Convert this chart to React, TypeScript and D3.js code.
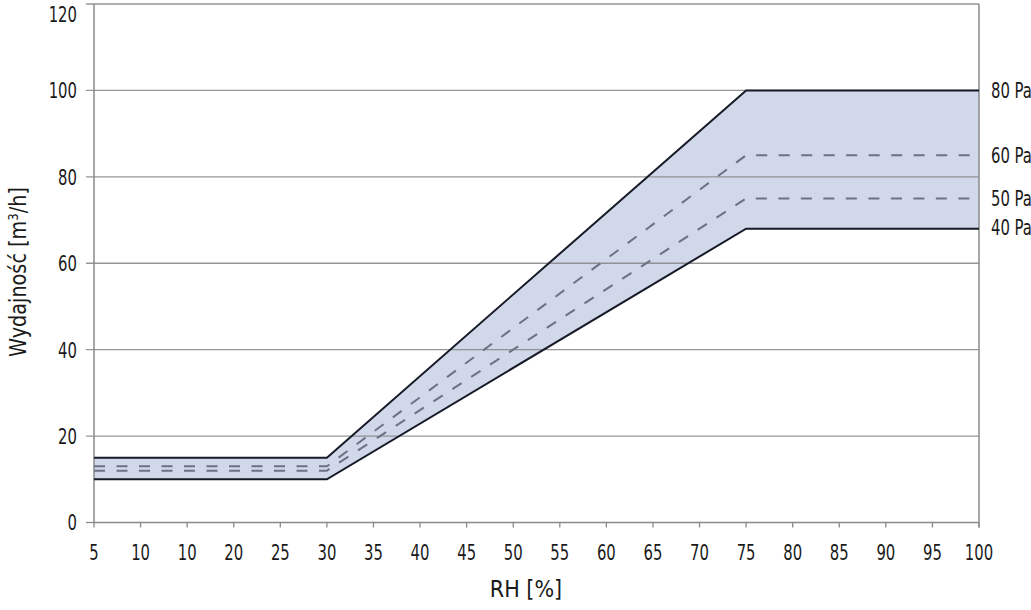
import React from "react";
import * as d3 from "d3";

const rhValues = [5, 30, 75, 100];
const series80 = [15, 15, 100, 100];
const series60 = [13, 13, 85, 85];
const series50 = [12, 12, 75, 75];
const series40 = [10, 10, 68, 68];
const xTickValues = [5, 10, 15, 20, 25, 30, 35, 40, 45, 50, 55, 60, 65, 70, 75, 80, 85, 90, 95, 100];
const xTickLabels = ["5", "10", "10", "20", "25", "30", "35", "40", "45", "50", "55", "60", "65", "70", "75", "80", "85", "90", "95", "100"];
const yTicks = [0, 20, 40, 60, 80, 100, 120];
const seriesLabels = ["80 Pa", "60 Pa", "50 Pa", "40 Pa"];

const W = 1031;
const H = 610;
const FONT = "'DejaVu Sans Condensed', 'DejaVu Sans', sans-serif";

type TProps = {
  x: number;
  y: number;
  size: number;
  sx?: number;
  anchor?: "start" | "middle" | "end";
  rotate?: number;
  dy?: string;
  children: React.ReactNode;
};

function T({ x, y, size, sx = 0.75, anchor = "start", rotate = 0, dy, children }: TProps) {
  return (
    <text
      transform={`translate(${x},${y}) rotate(${rotate}) scale(${sx},1)`}
      textAnchor={anchor}
      fontSize={size}
      dy={dy}
      fill="#1a1a1a"
      fontStretch="condensed"
    >
      {children}
    </text>
  );
}

export default function App() {
  const x = d3.scaleLinear().domain([5, 100]).range([94, 979]);
  const y = d3.scaleLinear().domain([0, 120]).range([522.5, 4]);

  const pts = (vals: number[]) => rhValues.map((r, i) => [r, vals[i]] as [number, number]);
  const line = d3.line<[number, number]>().x((d) => x(d[0])).y((d) => y(d[1]));
  const area = d3
    .area<number>()
    .x((_, i) => x(rhValues[i]))
    .y0((_, i) => y(series40[i]))
    .y1((d) => y(d));

  const labelVals = [series80[3], series60[3], series50[3], series40[3]];
  const grid = "#8a8a8a";

  return (
    <svg width={W} height={H} style={{ position: "absolute", left: 0, top: 0 }} fontFamily={FONT}>
      <rect width={W} height={H} fill="#fff" />
      <path d={area(series80) || ""} fill="#d0d8ea" />
      {yTicks.filter((t) => t > 0).map((t) => (
        <line key={t} x1={86} x2={x(100)} y1={y(t)} y2={y(t)} stroke={grid} strokeWidth={1.3} strokeOpacity={0.9} />
      ))}
      <line x1={86} x2={94} y1={y(0)} y2={y(0)} stroke={grid} strokeWidth={1.3} />
      <line x1={x(5)} x2={x(5)} y1={y(120)} y2={y(0)} stroke={grid} strokeWidth={1.5} />
      <line x1={x(100)} x2={x(100)} y1={y(120)} y2={y(0) + 5} stroke={grid} strokeWidth={1.5} />
      <line x1={x(5)} x2={x(100)} y1={y(0)} y2={y(0)} stroke={grid} strokeWidth={1.5} />
      {xTickValues.map((v) => (
        <line key={v} x1={x(v)} x2={x(v)} y1={y(0)} y2={y(0) + 5} stroke={grid} strokeWidth={1.3} />
      ))}
      <path d={line(pts(series60)) || ""} fill="none" stroke="#6a7283" strokeWidth={2} strokeDasharray="11,11.5" />
      <path d={line(pts(series50)) || ""} fill="none" stroke="#6a7283" strokeWidth={2} strokeDasharray="11,11.5" />
      <path d={line(pts(series80)) || ""} fill="none" stroke="#161a26" strokeWidth={2} />
      <path d={line(pts(series40)) || ""} fill="none" stroke="#161a26" strokeWidth={2} />
      {yTicks.map((t) => (
        <T key={t} x={77} y={Math.min(Math.max(y(t), 14), 526)} size={22} anchor="end" dy="0.36em">
          {t}
        </T>
      ))}
      {xTickValues.map((v, i) => (
        <T key={v} x={x(v)} y={560} size={22} anchor="middle">
          {xTickLabels[i]}
        </T>
      ))}
      {seriesLabels.map((s, i) => (
        <T key={s} x={991} y={y(labelVals[i]) - (i === 3 ? 2 : 0)} size={22} dy="0.36em">
          {s}
        </T>
      ))}
      <T x={526} y={597} size={23} sx={1} anchor="middle">
        RH [%]
      </T>
      <T x={26} y={272} size={23} sx={0.93} anchor="middle" rotate={-90}>
        Wydajność [m<tspan dy="-8" fontSize={14}>3</tspan><tspan dy="8">/h]</tspan>
      </T>
    </svg>
  );
}
